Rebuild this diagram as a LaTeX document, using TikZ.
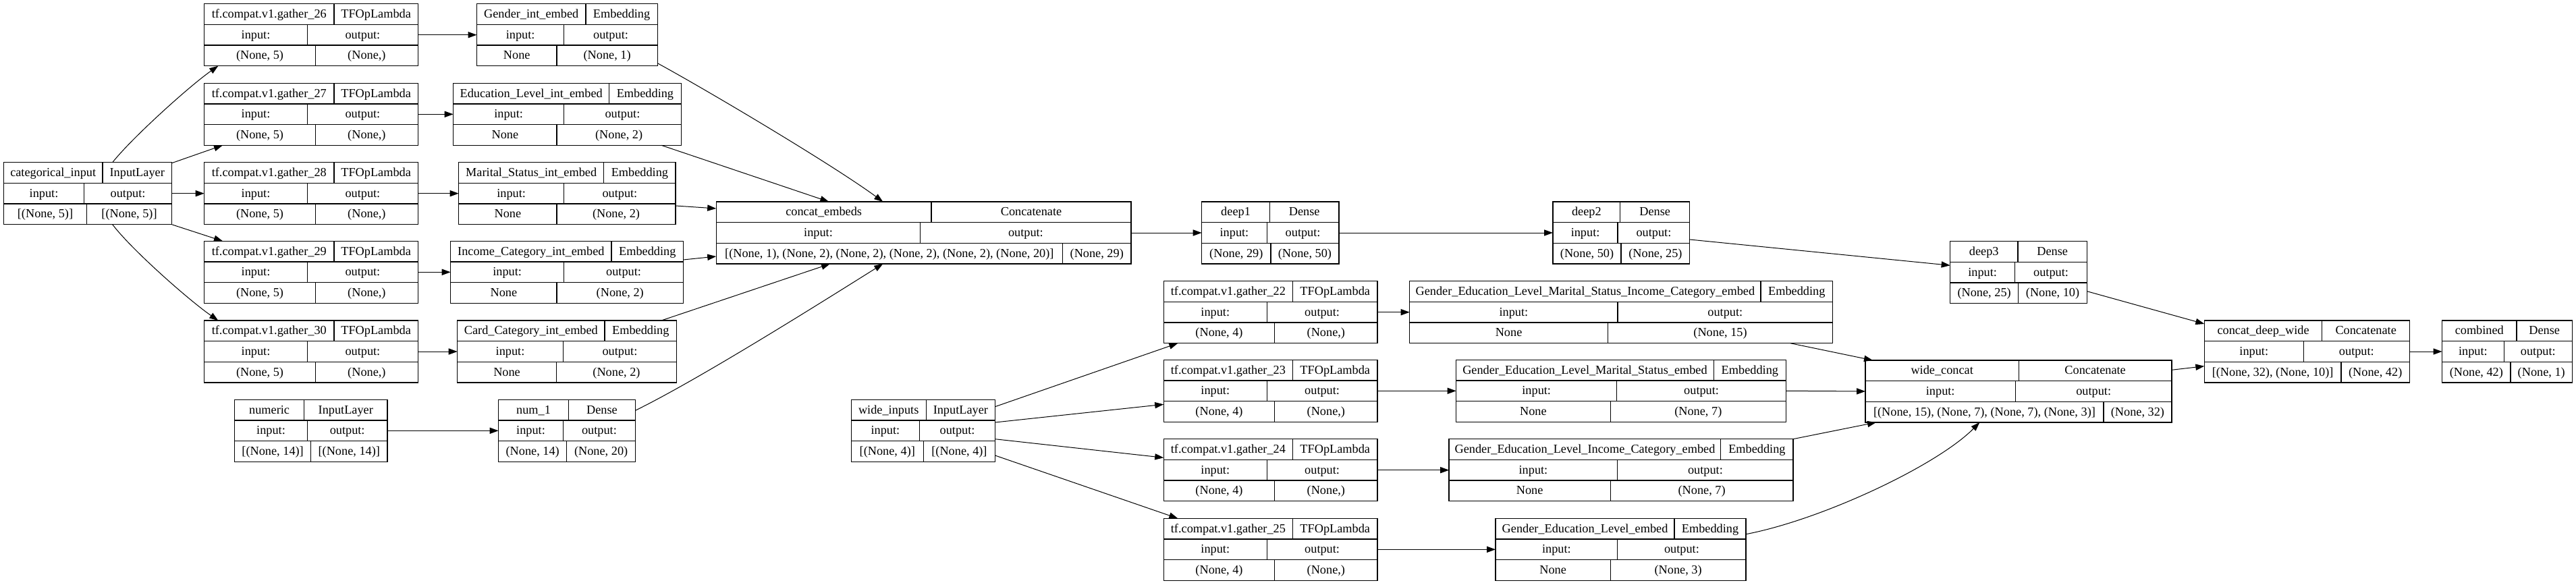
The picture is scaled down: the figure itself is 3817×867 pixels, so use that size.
\documentclass[tikz,border=0pt]{standalone}
\usepackage{fontspec}
\setmainfont{Liberation Serif}
\usetikzlibrary{arrows.meta,calc}
\tikzset{
  lbox/.style={draw, line width=0.65pt, minimum height=46pt, inner sep=0pt, outer sep=0pt},
  sep/.style={line width=0.65pt},
  ltxt/.style={anchor=base, inner sep=0pt, font=\fontsize{9.14}{11}\selectfont},
  arr/.style={line width=0.5pt, -{Triangle[length=6.5pt,width=4.6pt]}}
}
\newcommand\lyr[9]{%
  \pgfmathsetmacro\LW{(#3-#2)*0.5}%
  \pgfmathsetmacro\LCX{(#2+#3)/2}%
  \pgfmathsetmacro\LCY{#4+46}%
  \node[lbox, minimum width=\LW pt] (#1) at (\LCX,\LCY) {};
  \draw[sep] (#2,#4+30.6) -- (#3,#4+30.6);
  \draw[sep] (#2,#4+61.3) -- (#3,#4+61.3);
  \draw[sep] (#5,#4) -- (#5,#4+30.6);
  \draw[sep] (#6,#4+30.6) -- (#6,#4+61.3);
  \draw[sep] (#7,#4+61.3) -- (#7,#4+92);
  \node[ltxt] (#1-name) at ({(#2+#5)/2},#4+20.8) {#8};
  \node[ltxt] (#1-type) at ({(#5+#3)/2},#4+20.8) {#9};
  \node[ltxt] (#1-in) at ({(#2+#6)/2},#4+51.4) {input:};
  \node[ltxt] (#1-out) at ({(#6+#3)/2},#4+51.4) {output:};
  \def\LXa{#2}\def\LXb{#3}\def\LY{#4}\def\LR{#7}\def\LN{#1}%
  \lyrio}
\newcommand\lyrio[2]{%
  \node[ltxt] (\LN-ish) at ({(\LXa+\LR)/2},\LY+82) {#1};
  \node[ltxt] (\LN-osh) at ({(\LR+\LXb)/2},\LY+82) {#2};
}
\begin{document}
\begin{tikzpicture}[x=0.5pt,y=-0.5pt]
\fill[white] (0,0) rectangle (3817,867);
\useasboundingbox (0,0) rectangle (3817,867);

% categorical branch
\lyr{cat}{5.4}{254.5}{240.7}{152}{124.6}{128.6}{categorical\_input}{InputLayer}{[(None, 5)]}{[(None, 5)]}
\lyr{g26}{302.7}{619.4}{5.7}{494.9}{455.4}{467.4}{tf.compat.v1.gather\_26}{TFOpLambda}{(None, 5)}{(None,)}
\lyr{g27}{302.7}{619.4}{123.3}{494.9}{455.4}{467.4}{tf.compat.v1.gather\_27}{TFOpLambda}{(None, 5)}{(None,)}
\lyr{g28}{302.7}{619.4}{240.7}{494.9}{455.4}{467.4}{tf.compat.v1.gather\_28}{TFOpLambda}{(None, 5)}{(None,)}
\lyr{g29}{302.7}{619.4}{357.3}{494.9}{455.4}{467.4}{tf.compat.v1.gather\_29}{TFOpLambda}{(None, 5)}{(None,)}
\lyr{g30}{302.7}{619.4}{475}{494.9}{455.4}{467.4}{tf.compat.v1.gather\_30}{TFOpLambda}{(None, 5)}{(None,)}
\lyr{eg}{706.5}{974.3}{5.7}{867.9}{835.7}{825}{Gender\_int\_embed}{Embedding}{None}{(None, 1)}
\lyr{ee}{671.7}{1009.2}{123.3}{902.7}{835.7}{825}{Education\_Level\_int\_embed}{Embedding}{None}{(None, 2)}
\lyr{em}{679.7}{1001.1}{240.7}{894.7}{835.7}{825}{Marital\_Status\_int\_embed}{Embedding}{None}{(None, 2)}
\lyr{ei}{667.7}{1012.5}{357.3}{906}{835.7}{825}{Income\_Category\_int\_embed}{Embedding}{None}{(None, 2)}
\lyr{ec}{677.7}{1002.5}{475}{896}{834.4}{824.4}{Card\_Category\_int\_embed}{Embedding}{None}{(None, 2)}
\lyr{num}{347.6}{573.9}{592.3}{450.7}{455.4}{460.7}{numeric}{InputLayer}{[(None, 14)]}{[(None, 14)]}
\lyr{numa}{738.6}{941.5}{592.3}{842.4}{834.4}{839.8}{num\_1}{Dense}{(None, 14)}{(None, 20)}
\lyr{cemb}{1061.2}{1676}{299}{1380.1}{1363.8}{1574.5}{concat\_embeds}{Concatenate}{[(None, 1), (None, 2), (None, 2), (None, 2), (None, 2), (None, 20)]}{(None, 29)}
\lyr{deepa}{1780.7}{1984}{299}{1881.4}{1877.2}{1882.9}{deep1}{Dense}{(None, 29)}{(None, 50)}
\lyr{deepb}{2301}{2503.8}{299}{2400.6}{2397.1}{2402}{deep2}{Dense}{(None, 50)}{(None, 25)}
\lyr{deepc}{2889.6}{3092.4}{357.7}{2989.9}{2985.7}{2990.6}{deep3}{Dense}{(None, 25)}{(None, 10)}

% wide branch
\lyr{wide}{1261.2}{1474.5}{592.3}{1372.2}{1362.6}{1368.4}{wide\_inputs}{InputLayer}{[(None, 4)]}{[(None, 4)]}
\lyr{g22}{1724.2}{2040.9}{416.7}{1915.6}{1877.3}{1888.8}{tf.compat.v1.gather\_22}{TFOpLambda}{(None, 4)}{(None,)}
\lyr{g23}{1724.2}{2040.9}{533.3}{1915.6}{1877.3}{1888.8}{tf.compat.v1.gather\_23}{TFOpLambda}{(None, 4)}{(None,)}
\lyr{g24}{1724.2}{2040.9}{650.7}{1915.6}{1877.3}{1888.8}{tf.compat.v1.gather\_24}{TFOpLambda}{(None, 4)}{(None,)}
\lyr{g25}{1724.2}{2040.9}{768.3}{1915.6}{1877.3}{1888.8}{tf.compat.v1.gather\_25}{TFOpLambda}{(None, 4)}{(None,)}
\lyr{wa}{2088.7}{2715.6}{416.7}{2609}{2397}{2382.4}{Gender\_Education\_Level\_Marital\_Status\_Income\_Category\_embed}{Embedding}{None}{(None, 15)}
\lyr{wb}{2157.6}{2646.4}{533.3}{2539.3}{2395.8}{2386.2}{Gender\_Education\_Level\_Marital\_Status\_embed}{Embedding}{None}{(None, 7)}
\lyr{wc}{2147.1}{2657}{650.7}{2549.8}{2396.8}{2386.2}{Gender\_Education\_Level\_Income\_Category\_embed}{Embedding}{None}{(None, 7)}
\lyr{wd}{2216}{2587.1}{768.3}{2481}{2396.8}{2386.2}{Gender\_Education\_Level\_embed}{Embedding}{None}{(None, 3)}
\lyr{wcat}{2764}{3217.9}{534}{2991.3}{2986.4}{3116.9}{wide\_concat}{Concatenate}{[(None, 15), (None, 7), (None, 7), (None, 3)]}{(None, 32)}
\lyr{cdw}{3266.3}{3570.5}{475}{3440.8}{3413.2}{3468.9}{concat\_deep\_wide}{Concatenate}{[(None, 32), (None, 10)]}{(None, 42)}
\lyr{comb}{3618.5}{3811.3}{475}{3729}{3710.2}{3720.1}{combined}{Dense}{(None, 42)}{(None, 1)}

% connectors: categorical input to gathers
\draw[arr] ($(cat.north west)+(161.3,0)$) .. controls (195,205) and (280,128) .. ($(g26.south west)+(20.6,0)$);
\draw[arr] ($(cat.north east)+(0,1)$) -- ($(g27.south west)+(27.3,0)$);
\draw[arr] (cat.east) -- (g28.west);
\draw[arr] (cat.south east) -- ($(g29.north west)+(27.3,0)$);
\draw[arr] ($(cat.south west)+(161.3,0)$) .. controls (195,370) and (280,445) .. ($(g30.north west)+(20.6,0)$);
% gathers to embeddings
\draw[arr] (g26.east) -- (eg.west);
\draw[arr] (g27.east) -- (ee.west);
\draw[arr] (g28.east) -- (em.west);
\draw[arr] (g29.east) -- (ei.west);
\draw[arr] (g30.east) -- (ec.west);
\draw[arr] (num.east) -- (numa.west);
% embeddings to concat_embeds
\draw[arr] ($(eg.south east)+(0,-4)$) .. controls (1050,135) and (1235,245) .. ($(cemb.north west)+(247.1,0)$);
\draw[arr] ($(ee.south west)+(308.3,0)$) -- ($(cemb.north west)+(167.1,0)$);
\draw[arr] ($(em.north east)+(0,64.3)$) -- ($(cemb.north west)+(0,10)$);
\draw[arr] ($(ei.north east)+(0,27.7)$) -- ($(cemb.north west)+(0,81)$);
\draw[arr] ($(ec.north west)+(302.3,0)$) -- ($(cemb.south west)+(168.8,0)$);
\draw[arr] ($(numa.north east)+(0,16)$) .. controls (1040,560) and (1230,440) .. ($(cemb.south west)+(247.1,0)$);
% deep stack
\draw[arr] (cemb.east) -- (deepa.west);
\draw[arr] (deepa.east) -- (deepb.west);
\draw[arr] ($(deepb.north east)+(0,56)$) -- ($(deepc.north west)+(0,35.6)$);
\draw[arr] ($(deepc.north east)+(0,74)$) -- ($(cdw.north west)+(0,5)$);
% wide inputs to gathers
\draw[arr] ($(wide.north east)+(0,10.4)$) -- ($(g22.south west)+(21.1,0)$);
\draw[arr] ($(wide.north east)+(0,33.7)$) -- ($(g23.north west)+(0,66)$);
\draw[arr] ($(wide.north east)+(0,58.4)$) -- ($(g24.north west)+(0,27.6)$);
\draw[arr] ($(wide.north east)+(0,82.7)$) -- ($(g25.north west)+(21.1,0)$);
% gathers to crossed embeddings
\draw[arr] (g22.east) -- (wa.west);
\draw[arr] (g23.east) -- (wb.west);
\draw[arr] (g24.east) -- (wc.west);
\draw[arr] (g25.east) -- (wd.west);
% crossed embeddings to wide_concat
\draw[arr] ($(wa.south west)+(564.3,0)$) -- ($(wcat.north west)+(11,0)$);
\draw[arr] (wb.east) -- (wcat.west);
\draw[arr] ($(wc.north west)+(509.7,0)$) -- ($(wcat.south west)+(16,0)$);
\draw[arr] ($(wd.north east)+(0,23.4)$) .. controls (2700,770) and (2870,690) .. ($(wcat.south west)+(169.3,0)$);
% final
\draw[arr] ($(wcat.north east)+(0,14.3)$) -- ($(cdw.north west)+(0,67.7)$);
\draw[arr] (cdw.east) -- (comb.west);
\end{tikzpicture}
\end{document}
